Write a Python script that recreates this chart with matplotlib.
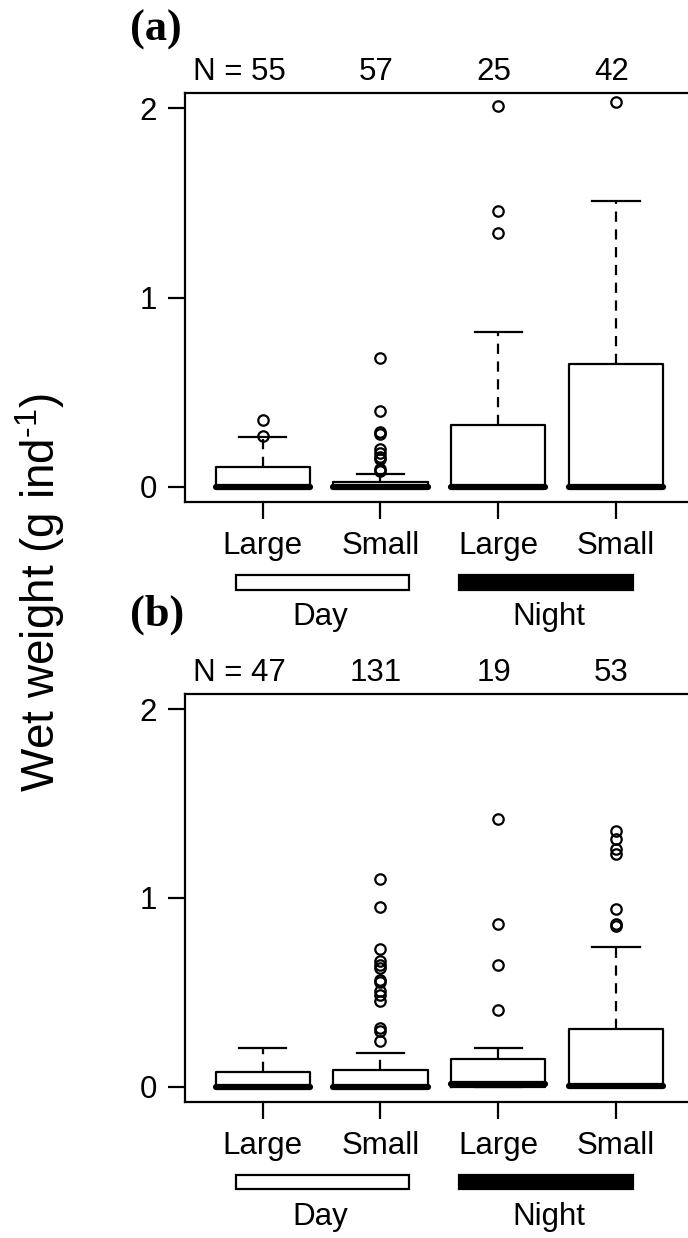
import matplotlib
matplotlib.use('Agg')
import matplotlib.pyplot as plt
from matplotlib.patches import Rectangle
from matplotlib.transforms import blended_transform_factory

plt.rcParams['font.family'] = ['Liberation Sans', 'DejaVu Sans']
plt.rcParams['mathtext.fontset'] = 'custom'
plt.rcParams['mathtext.rm'] = 'Liberation Sans'
plt.rcParams['mathtext.default'] = 'regular'

# categories
sizes = ['Large', 'Small', 'Large', 'Small']
periods = ['Day', 'Night']

# panel (a): box statistics (g ind-1)
a_n = [55, 57, 25, 42]
a_q1 = [0.0, 0.0, 0.0, 0.0]
a_med = [0.0, 0.0, 0.0, 0.0]
a_q3 = [0.101, 0.022, 0.328, 0.650]
a_whishi = [0.262, 0.067, 0.818, 1.512]
a_fliers = [[0.268, 0.353],
            [0.085, 0.092, 0.148, 0.158, 0.175, 0.198, 0.276, 0.290, 0.400, 0.680],
            [1.342, 1.457, 2.015],
            [2.036]]

# panel (b)
b_n = [47, 131, 19, 53]
b_q1 = [0.0, 0.0, 0.0, 0.0]
b_med = [0.0, 0.0, 0.012, 0.003]
b_q3 = [0.076, 0.089, 0.145, 0.305]
b_whishi = [0.202, 0.180, 0.202, 0.738]
b_fliers = [[],
            [0.239, 0.292, 0.310, 0.451, 0.487, 0.505, 0.554, 0.563,
             0.629, 0.646, 0.664, 0.730, 0.953, 1.101],
            [0.407, 0.646, 0.862, 1.420],
            [0.850, 0.859, 0.942, 1.234, 1.257, 1.310, 1.354]]

W, H = 688, 1238
FS = 22.5
LW = 1.6


def make_stats(q1, med, q3, whishi, fliers):
    stats = []
    for i in range(len(med)):
        stats.append({'q1': q1[i], 'med': med[i], 'q3': q3[i],
                      'whislo': q1[i], 'whishi': whishi[i],
                      'fliers': fliers[i]})
    return stats


def panel(ax, stats, counts):
    ax.bxp(stats, positions=[1, 2, 3, 4], widths=0.8, capwidths=0.4,
           boxprops=dict(color='black', linewidth=LW),
           whiskerprops=dict(color='black', linewidth=LW, linestyle=(0, (4.6, 3.4))),
           capprops=dict(color='black', linewidth=LW),
           medianprops=dict(color='black', linewidth=4.5, solid_capstyle='round'),
           flierprops=dict(marker='o', markersize=7.5, markerfacecolor='none',
                           markeredgecolor='black', markeredgewidth=1.6))
    ax.set_xlim(0.34, 4.66)
    ax.set_ylim(-0.08, 2.08)
    ax.set_yticks([0, 1, 2])
    ax.set_yticklabels(['0', '1', '2'])
    ax.set_xticks([1, 2, 3, 4])
    ax.set_xticklabels(sizes)
    ax.tick_params(axis='both', length=12.2, width=LW, labelsize=FS)
    ax.tick_params(axis='x', pad=9)
    ax.tick_params(axis='y', pad=8)
    for s in ax.spines.values():
        s.set_linewidth(LW)

    # sample sizes above the box
    n_x = [0.80, 1.96, 2.96, 3.96]
    for i, n in enumerate(counts):
        lab = 'N = %d' % n if i == 0 else str(n)
        ax.annotate(lab, xy=(n_x[i], 1.0), xycoords=('data', 'axes fraction'),
                    xytext=(0, 9.5), textcoords='offset points',
                    ha='center', va='baseline', fontsize=FS)

    # Day / Night bars below the axis
    tr = blended_transform_factory(ax.transData, ax.transAxes)
    spans = [(0.773, 2.24), (2.666, 4.146)]
    fills = ['white', 'black']
    text_x = [1.49, 3.43]
    for j, p in enumerate(periods):
        x0, x1 = spans[j]
        ax.add_patch(Rectangle((x0, -0.215), x1 - x0, 0.036, transform=tr,
                               facecolor=fills[j], edgecolor='black',
                               linewidth=LW, clip_on=False))
        ax.text(text_x[j], -0.302, p, transform=tr, ha='center',
                va='baseline', fontsize=FS)


fig = plt.figure(figsize=(W / 100, H / 100), dpi=100)
ax_a = fig.add_axes([185 / W, 1 - 501.7 / H, 508.7 / W, 408.4 / H])
ax_b = fig.add_axes([185 / W, 1 - 1101.7 / H, 508.7 / W, 407.7 / H])

panel(ax_a, make_stats(a_q1, a_med, a_q3, a_whishi, a_fliers), a_n)
panel(ax_b, make_stats(b_q1, b_med, b_q3, b_whishi, b_fliers), b_n)

fig.text(156 / W, 1 - 30 / H, '(a)', family='Liberation Serif',
         fontweight='bold', fontsize=32, ha='center', va='center')
fig.text(157 / W, 1 - 615 / H, '(b)', family='Liberation Serif',
         fontweight='bold', fontsize=32, ha='center', va='center')
fig.text(40 / W, 1 - 592 / H, r'Wet weight (g ind$^{\text{-1}}$)',
         rotation=90, ha='center', va='center', fontsize=33)

fig.savefig('out.png', dpi=100)
